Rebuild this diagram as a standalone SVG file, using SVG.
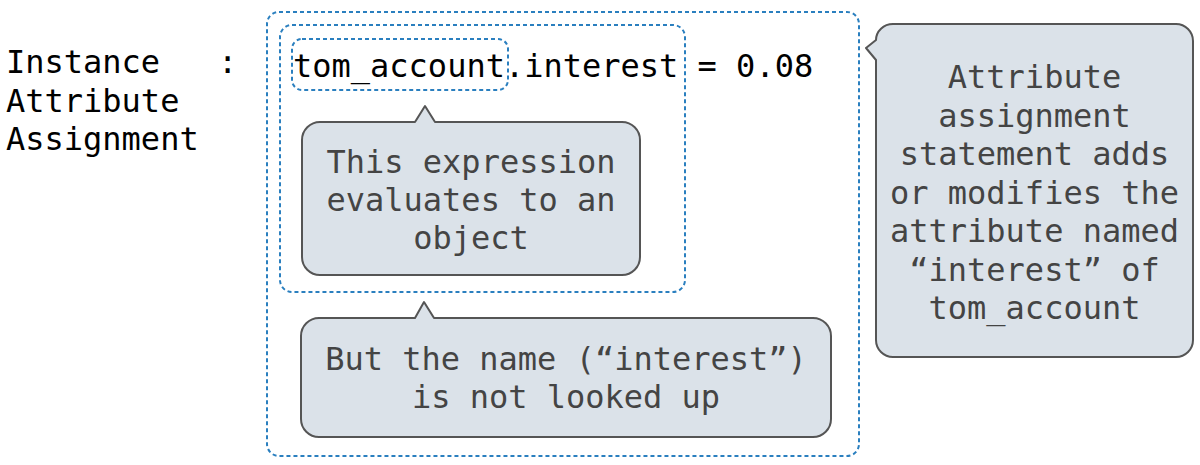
<svg xmlns="http://www.w3.org/2000/svg" width="1200" height="465" viewBox="0 0 1200 465">
<style>
text{font-family:"DejaVu Sans Mono","Liberation Mono",monospace;font-size:32px}
.main{fill:#000}
.bt{fill:#444;text-anchor:middle}
.dash{fill:none;stroke:#2a7fbf;stroke-width:2;stroke-dasharray:4 3}
.bub{fill:#dbe2e9;stroke:#555;stroke-width:2;stroke-linejoin:round}
</style>
<rect width="1200" height="465" fill="#fff"/>
<g id="title">
<text class="main" x="6" y="73">Instance</text>
<text class="main" x="6" y="111.5">Attribute</text>
<text class="main" x="6" y="150">Assignment</text>
<text class="main" x="218" y="73">:</text>
</g>
<g id="frames">
<rect id="outer" class="dash" x="267" y="12" width="592" height="444" rx="12"/>
<rect id="inner" class="dash" x="280" y="25" width="405" height="267" rx="12"/>
<rect id="expr" class="dash" x="292" y="39" width="216" height="51" rx="10"/>
</g>
<g id="code">
<text class="main" x="293" y="77">tom_account.interest = 0.08</text>
</g>
<g id="bubble-object">
<path class="bub" d="M320,122 L415,122 L425,106 L435,122 L622,122 A18,18 0 0 1 640,140 L640,257 A18,18 0 0 1 622,275 L320,275 A18,18 0 0 1 302,257 L302,140 A18,18 0 0 1 320,122 Z"/>
<text class="bt" x="471" y="173">This expression</text>
<text class="bt" x="471" y="211">evaluates to an</text>
<text class="bt" x="471" y="249">object</text>
</g>
<g id="bubble-name">
<path class="bub" d="M319,318 L415,318 L424,302 L434,318 L813,318 A18,18 0 0 1 831,336 L831,419 A18,18 0 0 1 813,437 L319,437 A18,18 0 0 1 301,419 L301,336 A18,18 0 0 1 319,318 Z"/>
<text class="bt" x="566" y="370">But the name (“interest”)</text>
<text class="bt" x="566" y="408">is not looked up</text>
</g>
<g id="bubble-assign">
<path class="bub" d="M893,24 L1176,24 A17,17 0 0 1 1193,41 L1193,340 A17,17 0 0 1 1176,357 L893,357 A17,17 0 0 1 876,340 L876,60 L866,48 L876,40 A17,16 0 0 1 893,24 Z"/>
<text class="bt" x="1034.5" y="88">Attribute</text>
<text class="bt" x="1034.5" y="126.5">assignment</text>
<text class="bt" x="1034.5" y="165">statement adds</text>
<text class="bt" x="1034.5" y="203.5">or modifies the</text>
<text class="bt" x="1034.5" y="242">attribute named</text>
<text class="bt" x="1034.5" y="280.5">“interest” of</text>
<text class="bt" x="1034.5" y="319">tom_account</text>
</g>
<g id="connectors"></g>
</svg>
